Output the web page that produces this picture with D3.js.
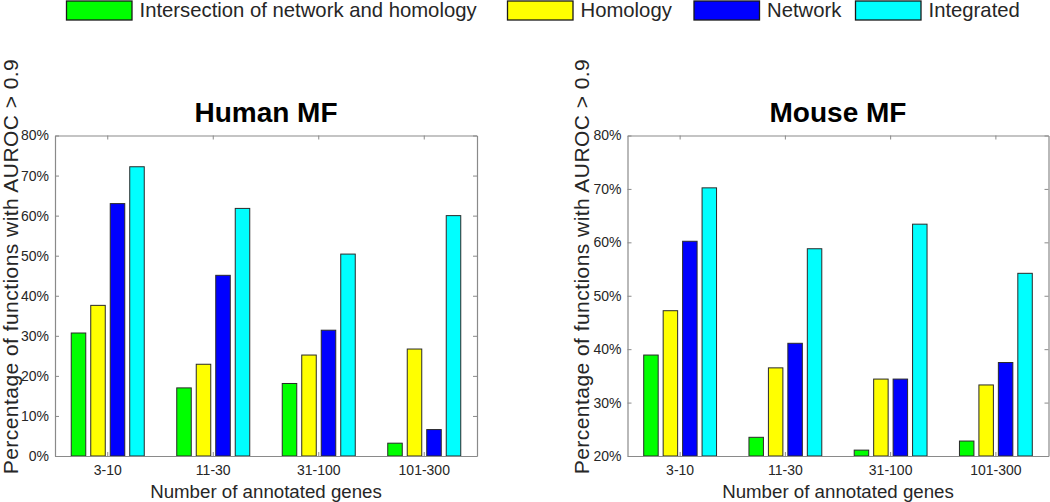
<!DOCTYPE html>
<html>
<head>
<meta charset="utf-8">
<script src="https://cdn.jsdelivr.net/npm/d3@7"></script>
<style>
  body { margin: 0; background: #fff; }
  svg { display: block; font-family: Arial, "Liberation Sans", Helvetica, sans-serif; }
</style>
</head>
<body>
<svg id="chart" width="1050" height="502"></svg>
<script>
// ---------- data ----------
const categories = ["3-10", "11-30", "31-100", "101-300"];
const seriesNames = ["Intersection of network and homology", "Homology", "Network", "Integrated"];
const seriesColors = ["#00ff00", "#ffff00", "#0000ff", "#00ffff"];

const humanIntersection = [30.7, 17.0, 18.1, 3.2];
const humanHomology     = [37.6, 22.9, 25.2, 26.7];
const humanNetwork      = [63.0, 45.1, 31.4, 6.6];
const humanIntegrated   = [72.2, 61.8, 50.4, 60.0];

const mouseIntersection = [38.9, 23.5, 21.1, 22.8];
const mouseHomology     = [47.2, 36.5, 34.4, 33.3];
const mouseNetwork      = [60.2, 41.1, 34.4, 37.5];
const mouseIntegrated   = [70.2, 58.8, 63.4, 54.2];

const humanTicks = [0, 10, 20, 30, 40, 50, 60, 70, 80];
const mouseTicks = [20, 30, 40, 50, 60, 70, 80];

const panels = [
  { title: "Human MF", series: [humanIntersection, humanHomology, humanNetwork, humanIntegrated], domain: [0, 80], ticks: humanTicks },
  { title: "Mouse MF", series: [mouseIntersection, mouseHomology, mouseNetwork, mouseIntegrated], domain: [20, 80], ticks: mouseTicks }
];

const yLabel = "Percentage of functions with AUROC > 0.9";
const xLabel = "Number of annotated genes";

// ---------- layout ----------
const svg = d3.select("#chart");
const axisColor = "#8a8a8a";
const textColor = "#262626";
const fontFam = "Arial, 'Liberation Sans', Helvetica, sans-serif";
const panelLayout = [
  { left: 55, right: 477, top: 135.5, bottom: 456, ylabelX: 17.5 },
  { left: 627.5, right: 1048.5, top: 135.5, bottom: 456, ylabelX: 589 }
];
const tickLen = 4;

panels.forEach((p, pi) => {
  const L = panelLayout[pi];
  const g = svg.append("g");

  const x = d3.scaleBand().domain(categories).range([L.left, L.right]).paddingInner(0).paddingOuter(0);
  const inner = d3.scaleBand().domain(d3.range(seriesNames.length))
    .range([-x.bandwidth() * 0.346, x.bandwidth() * 0.346]).paddingInner(0.256).paddingOuter(0);
  const y = d3.scaleLinear().domain(p.domain).range([L.bottom, L.top]);

  // bars
  p.series.forEach((vals, si) => {
    g.selectAll(null).data(vals).enter().append("rect")
      .attr("x", (d, i) => x(categories[i]) + x.bandwidth() / 2 + inner(si))
      .attr("width", inner.bandwidth())
      .attr("y", d => y(d))
      .attr("height", d => y(p.domain[0]) - y(d))
      .attr("fill", seriesColors[si])
      .attr("stroke", "#2a2a2a")
      .attr("stroke-width", 1);
  });

  // axes
  const fmt = d => d + "%";
  const yAxisL = d3.axisLeft(y).tickValues(p.ticks).tickFormat(fmt).tickSizeInner(-tickLen).tickSizeOuter(0).tickPadding(6);
  const yAxisR = d3.axisRight(y).tickValues(p.ticks).tickFormat("").tickSizeInner(-tickLen).tickSizeOuter(0);
  const xAxisB = d3.axisBottom(x).tickSizeInner(-tickLen).tickSizeOuter(0).tickPadding(9);
  const xAxisT = d3.axisTop(x).tickFormat("").tickSizeInner(-tickLen).tickSizeOuter(0);

  const ga = [
    g.append("g").attr("transform", `translate(${L.left},0)`).call(yAxisL),
    g.append("g").attr("transform", `translate(${L.right},0)`).call(yAxisR),
    g.append("g").attr("transform", `translate(0,${L.bottom})`).call(xAxisB),
    g.append("g").attr("transform", `translate(0,${L.top})`).call(xAxisT)
  ];
  ga.forEach(a => {
    a.attr("font-size", 14).attr("font-family", fontFam);
    a.selectAll("path.domain").attr("stroke", axisColor).attr("stroke-width", 1.2);
    a.selectAll(".tick line").attr("stroke", axisColor);
    a.selectAll("text").attr("fill", textColor).attr("font-size", 14);
  });

  // title
  g.append("text")
    .attr("x", (L.left + L.right) / 2).attr("y", 122)
    .attr("text-anchor", "middle")
    .attr("font-size", 28).attr("font-weight", "bold")
    .attr("fill", "#000")
    .text(p.title);

  // x label
  g.append("text")
    .attr("x", (L.left + L.right) / 2).attr("y", 498)
    .attr("text-anchor", "middle")
    .attr("font-size", 18.7)
    .attr("fill", textColor)
    .text(xLabel);

  // y label
  g.append("text")
    .attr("transform", `translate(${L.ylabelX},266.5) rotate(-90)`)
    .attr("text-anchor", "middle")
    .attr("font-size", 21)
    .attr("letter-spacing", 0.45)
    .attr("fill", textColor)
    .text(yLabel);
});

// ---------- legend ----------
const legendX = [66.5, 507.5, 694, 855.5];
const legend = svg.append("g");
seriesNames.forEach((name, i) => {
  legend.append("rect")
    .attr("x", legendX[i]).attr("y", 1)
    .attr("width", 65.5).attr("height", 19)
    .attr("fill", seriesColors[i])
    .attr("stroke", "#1a1a1a").attr("stroke-width", 1.3);
  legend.append("text")
    .attr("x", legendX[i] + 73).attr("y", 17)
    .attr("font-size", 20.3)
    .attr("fill", textColor)
    .text(name);
});
</script>
</body>
</html>
